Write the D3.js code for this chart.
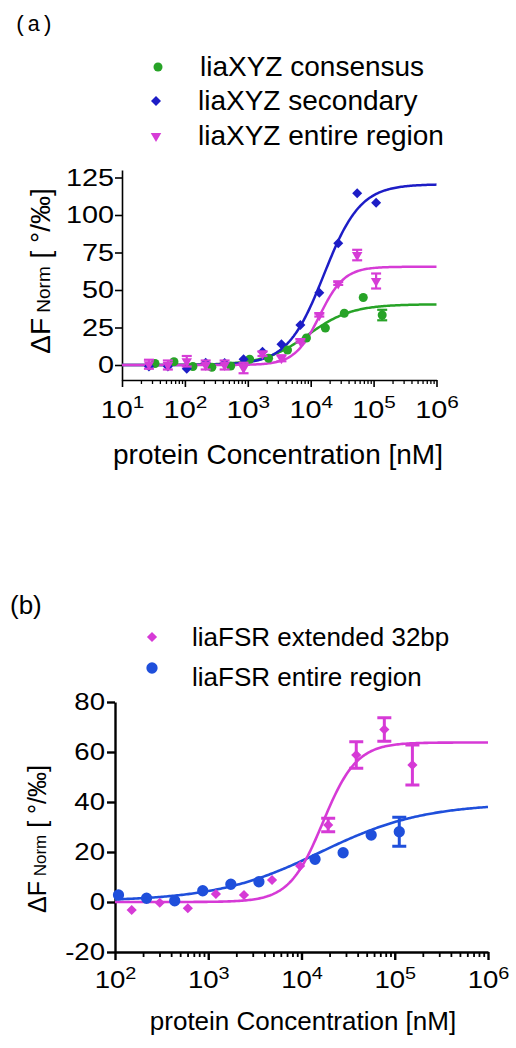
<!DOCTYPE html>
<html><head><meta charset="utf-8">
<script src="https://cdn.jsdelivr.net/npm/d3@7"></script>
<style>body{margin:0;background:#fff} text{font-family:"Liberation Sans",Arial,Helvetica,sans-serif;fill:#000}</style>
</head><body>
<svg id="c" width="516" height="1048" xmlns="http://www.w3.org/2000/svg"></svg>
<script>
// ---------- Panel (a) data ----------
const concA      = [26.8,53.6,107,214,428,856,1712,3425,6850,13700,27400,54800,109600];
const concAGreen = [33.5,67,134,268,535,1070,2140,4280,8560,17100,34200,68500,137000];
const consensusVals = [1,2.2,-1,-1.5,-0.7,3.8,4.5,10,18,24.7,34.5,45,33.3];
const consensusErr  = [0,0,0,0,0,0,0,0,0,0,0,0,3.5];
const secondaryVals = [-1,-1,-2.5,1.5,1.3,3.8,8.9,13.8,26.7,48.2,81.1,114.5,108.2];
const entireAVals   = [0.5,0,2.5,0,0,-2,7.5,4.5,16,33.3,54.4,73.3,56];
const entireAErr    = [3,3,3.5,3,3,3.5,1.5,2,1,1,1,3.5,5];
// fit parameters: [bottom, top, logEC50, hill]
const fitConsensus = [0, 40.5, 3.96, 1.25];
const fitSecondary = [0, 120.5, 4.21, 1.5];
const fitEntireA   = [0, 65.5, 4.14, 2.2];
const yTicksA = [0,25,50,75,100,125];
const xTicksA = [1e1,1e2,1e3,1e4,1e5,1e6];
const legendA = ["liaXYZ consensus","liaXYZ secondary","liaXYZ entire region"];

// ---------- Panel (b) data ----------
const concBBlue = [109,218,437,873,1747,3494,13975,27950,55900,111800];
const entireBVals = [2.8,1.5,0.5,4.5,7.1,8.1,17.1,19.7,26.8,28.1];
const entireBErr  = [0,0,0,0,0,0,0,0,0,5.8];
const concBMag  = [151,302,604,1208,2416,4832,9664,19328,38656,77312,154624];
const extVals   = [-3.2,-0.3,-2.5,3.2,2.8,8.8,14.4,30.8,58.8,69,54.8];
const extErr    = [0,0,0,0,0,0,0,2.7,5.3,4.7,8];
const fitExt     = [0, 63.8, 4.23, 2.4];
const fitEntireB = [0.3, 39.5, 4.2, 0.78];
const yTicksB = [-20,0,20,40,60,80];
const xTicksB = [1e2,1e3,1e4,1e5,1e6];
const legendB = ["liaFSR extended 32bp","liaFSR entire region"];

const GREEN="#27a327", BLUE_A="#1d1dc6", MAG="#d63cd6", BLUE_B="#1f4fdb", MAG_B="#d63ad6";

const svg = d3.select("#c");
svg.append("rect").attr("width",516).attr("height",1048).attr("fill","#fff");

function hill(p,x){ return p[0] + (p[1]-p[0])/(1+Math.pow(10,(p[2]-Math.log10(x))*p[3])); }
function minorTicks(dom){
  const out=[]; const lo=Math.log10(dom[0]), hi=Math.log10(dom[1]);
  for(let e=lo;e<hi;e++) for(let k=2;k<=9;k++) out.push(k*Math.pow(10,e));
  return out;
}
function curve(g,x,y,p,color,w){
  const d=x.domain(), lo=Math.log10(d[0]), hi=Math.log10(d[1]);
  const xs=d3.range(0,241).map(i=>Math.pow(10,lo+(hi-lo)*i/240));
  g.append("path").datum(xs).attr("fill","none").attr("stroke",color).attr("stroke-width",w)
   .attr("d",d3.line().x(v=>x(v)).y(v=>y(hill(p,v))));
}
function errbars(g,x,y,conc,vals,err,color,cap,w){
  const pts=conc.map((c,i)=>({c,v:vals[i],e:err[i]})).filter(d=>d.e>0);
  const eg=g.append("g").attr("stroke",color).attr("stroke-width",w);
  pts.forEach(d=>{
    eg.append("line").attr("x1",x(d.c)).attr("x2",x(d.c)).attr("y1",y(d.v-d.e)).attr("y2",y(d.v+d.e));
    [d.v-d.e,d.v+d.e].forEach(t=>eg.append("line").attr("x1",x(d.c)-cap).attr("x2",x(d.c)+cap).attr("y1",y(t)).attr("y2",y(t)));
  });
}
function points(g,x,y,conc,vals,sym,size,rot,color){
  g.append("g").selectAll("path").data(conc.map((c,i)=>[c,vals[i]])).join("path")
   .attr("d",d3.symbol().type(sym).size(size)())
   .attr("transform",d=>`translate(${x(d[0])},${y(d[1])}) rotate(${rot})`)
   .attr("fill",color);
}
function styleAxis(ax,w){
  ax.select(".domain").attr("stroke","#000").attr("stroke-width",w);
  ax.selectAll(".tick line").attr("stroke","#000").attr("stroke-width",w);
}
function expLabels(ax,fs,sx){
  ax.selectAll(".tick text").each(function(d){
    const t=d3.select(this); t.text("");
    t.attr("font-size",fs).attr("transform",`scale(${sx},1)`).attr("text-anchor","middle");
    t.append("tspan").text("10");
    t.append("tspan").text(Math.round(Math.log10(d))).attr("font-size",fs*0.72).attr("dy",-fs*0.42);
  });
}
function yLabels(ax,fs,sx,off){
  ax.selectAll(".tick text").attr("font-size",fs).attr("fill","#000")
    .attr("transform",`scale(${sx},1)`).attr("x",-off/sx);
}
const plain = d=>String(d);

// ================= Panel (a) =================
const xA=d3.scaleLog().domain([10,1e6]).range([122,436.5]);
const yA=d3.scaleLinear().domain([-10,130]).range([380,170]);
const gA=svg.append("g");

const axYA=gA.append("g").attr("transform","translate(122,0)")
  .call(d3.axisLeft(yA).tickValues(yTicksA).tickFormat(plain).tickSize(7).tickSizeOuter(0));
styleAxis(axYA,1.6); yLabels(axYA,24,1.2,8); axYA.attr("font-family",null);
const axXA=gA.append("g").attr("transform","translate(0,380)")
  .call(d3.axisBottom(xA).tickValues(xTicksA).tickSize(7).tickPadding(14).tickSizeOuter(0));
styleAxis(axXA,1.6); expLabels(axXA,24,1.2); axXA.attr("font-family",null);
const axXAm=gA.append("g").attr("transform","translate(0,380)")
  .call(d3.axisBottom(xA).tickValues(minorTicks(xA.domain())).tickSize(4).tickFormat(""));
axXAm.select(".domain").remove(); styleAxis(axXAm,1.3);

curve(gA,xA,yA,fitConsensus,GREEN,2.5);
curve(gA,xA,yA,fitSecondary,BLUE_A,2.5);
curve(gA,xA,yA,fitEntireA,MAG,2.5);
errbars(gA,xA,yA,concAGreen,consensusVals,consensusErr,GREEN,5,2.2);
points(gA,xA,yA,concAGreen,consensusVals,d3.symbolCircle,64,0,GREEN);
points(gA,xA,yA,concA,secondaryVals,d3.symbolSquare,50,45,BLUE_A);
errbars(gA,xA,yA,concA,entireAVals,entireAErr,MAG,5,2.2);
points(gA,xA,yA,concA,entireAVals,d3.symbolTriangle,48,180,MAG);

gA.append("text").attr("x",278).attr("y",464).attr("text-anchor","middle").attr("font-size",28)
  .text("protein Concentration [nM]");
const ytA=gA.append("text").attr("transform","translate(50,271) rotate(-90)").attr("text-anchor","middle").attr("font-size",28);
ytA.append("tspan").text("ΔF");
ytA.append("tspan").text(" Norm").attr("font-size",19);
ytA.append("tspan").text(" [ °/‰]");

gA.append("text").attr("x",14).attr("y",31).attr("font-size",22).attr("fill","#444")
  .style("font-family","'Liberation Mono','DejaVu Sans Mono',monospace").text("(a)");

const legAy=[76,110,145], legAm=[67,101,136];
const legAsym=[[d3.symbolCircle,64,0,GREEN],[d3.symbolSquare,50,45,BLUE_A],[d3.symbolTriangle,48,180,MAG]];
legendA.forEach((s,i)=>{
  const m=legAsym[i];
  gA.append("path").attr("d",d3.symbol().type(m[0]).size(m[1])())
    .attr("transform",`translate(${i==0?158:156},${legAm[i]}) rotate(${m[2]})`).attr("fill",m[3]);
  gA.append("text").attr("x",i==0?200:198).attr("y",legAy[i]).attr("font-size",28).text(s);
});

// ================= Panel (b) =================
const xB=d3.scaleLog().domain([100,1e6]).range([115,488]);
const yB=d3.scaleLinear().domain([-20,80]).range([952,702]);
const gB=svg.append("g");

const axYB=gB.append("g").attr("transform","translate(115,0)")
  .call(d3.axisLeft(yB).tickValues(yTicksB).tickFormat(plain).tickSize(8).tickSizeOuter(0));
styleAxis(axYB,2.4); yLabels(axYB,23,1.2,10); axYB.attr("font-family",null);
const axXB=gB.append("g").attr("transform","translate(0,952)")
  .call(d3.axisBottom(xB).tickValues(xTicksB).tickSize(8).tickPadding(12).tickSizeOuter(0));
styleAxis(axXB,2.4); expLabels(axXB,23,1.2); axXB.attr("font-family",null);
const axXBm=gB.append("g").attr("transform","translate(0,952)")
  .call(d3.axisBottom(xB).tickValues(minorTicks(xB.domain())).tickSize(5).tickFormat(""));
axXBm.select(".domain").remove(); styleAxis(axXBm,1.8);

curve(gB,xB,yB,fitEntireB,BLUE_B,2.6);
curve(gB,xB,yB,fitExt,MAG_B,2.6);
errbars(gB,xB,yB,concBBlue,entireBVals,entireBErr,BLUE_B,7,3);
points(gB,xB,yB,concBBlue,entireBVals,d3.symbolCircle,100,0,BLUE_B);
errbars(gB,xB,yB,concBMag,extVals,extErr,MAG_B,7,3);
points(gB,xB,yB,concBMag,extVals,d3.symbolSquare,52,45,MAG_B);

gB.append("text").attr("x",303).attr("y",1030).attr("text-anchor","middle").attr("font-size",26)
  .text("protein Concentration [nM]");
const ytB=gB.append("text").attr("transform","translate(46,839) rotate(-90)").attr("text-anchor","middle").attr("font-size",25);
ytB.append("tspan").text("ΔF");
ytB.append("tspan").text(" Norm").attr("font-size",17);
ytB.append("tspan").text(" [ °/‰]");

gB.append("text").attr("x",10).attr("y",614).attr("font-size",26).text("(b)");

const legBy=[646,686], legBm=[637,668];
const legBsym=[[d3.symbolSquare,52,45,MAG_B],[d3.symbolCircle,100,0,BLUE_B]];
legendB.forEach((s,i)=>{
  const m=legBsym[i];
  gB.append("path").attr("d",d3.symbol().type(m[0]).size(m[1])())
    .attr("transform",`translate(152,${legBm[i]}) rotate(${m[2]})`).attr("fill",m[3]);
  gB.append("text").attr("x",192).attr("y",legBy[i]).attr("font-size",26).text(s);
});
</script>
</body></html>
